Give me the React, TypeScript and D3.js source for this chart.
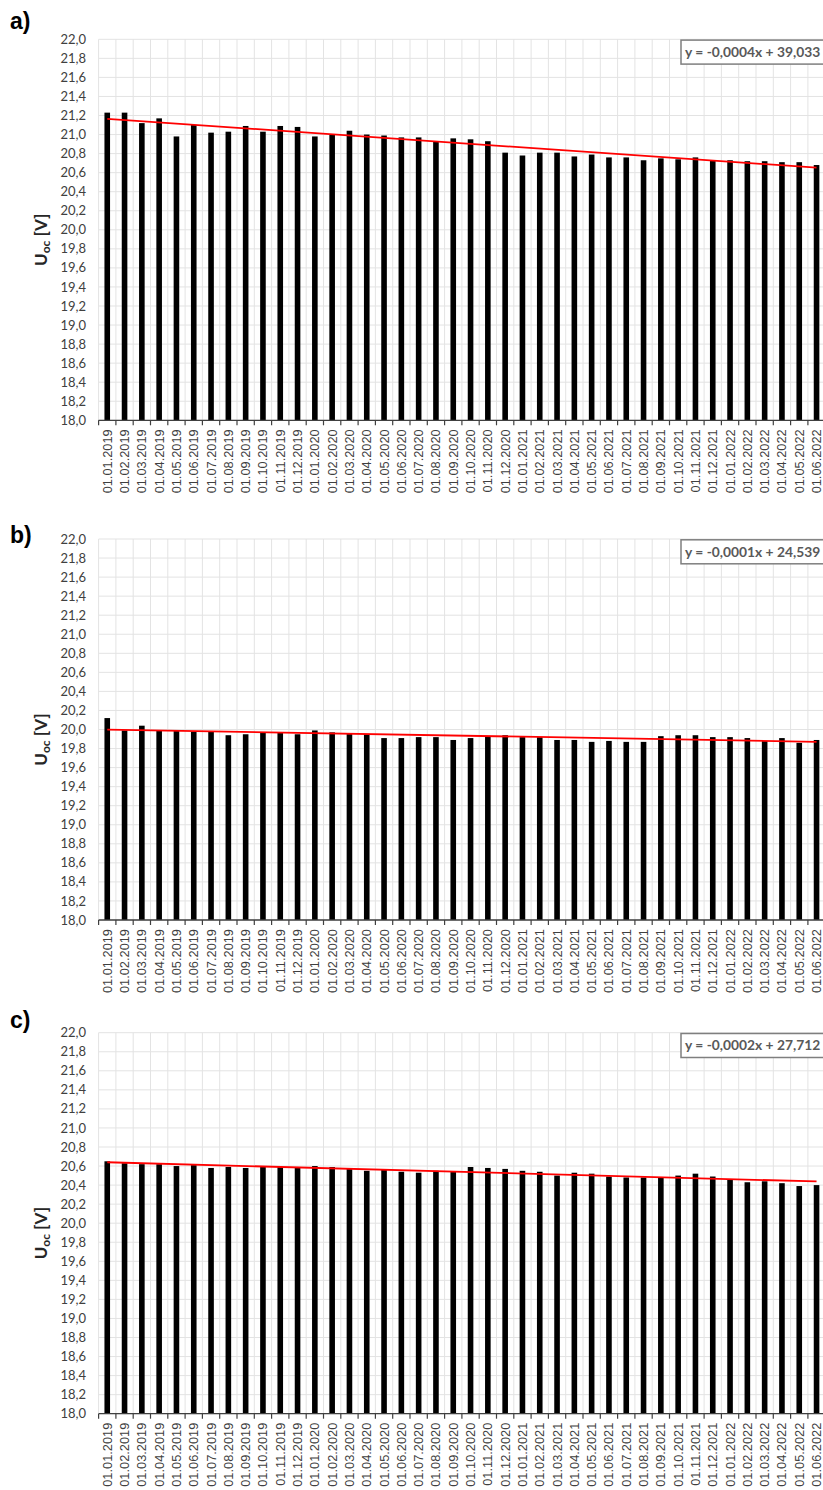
import React from "react";
import * as d3 from "d3";

const dateLabels = [
  "01.01.2019", "01.02.2019", "01.03.2019", "01.04.2019", "01.05.2019", "01.06.2019",
  "01.07.2019", "01.08.2019", "01.09.2019", "01.10.2019", "01.11.2019", "01.12.2019",
  "01.01.2020", "01.02.2020", "01.03.2020", "01.04.2020", "01.05.2020", "01.06.2020",
  "01.07.2020", "01.08.2020", "01.09.2020", "01.10.2020", "01.11.2020", "01.12.2020",
  "01.01.2021", "01.02.2021", "01.03.2021", "01.04.2021", "01.05.2021", "01.06.2021",
  "01.07.2021", "01.08.2021", "01.09.2021", "01.10.2021", "01.11.2021", "01.12.2021",
  "01.01.2022", "01.02.2022", "01.03.2022", "01.04.2022", "01.05.2022", "01.06.2022",
];

const seriesA = [
  21.23, 21.23, 21.12, 21.17, 20.98, 21.10, 21.02, 21.03, 21.09, 21.03, 21.09, 21.08,
  20.98, 21.00, 21.04, 21.00, 20.99, 20.97, 20.97, 20.93, 20.96, 20.95, 20.93, 20.81,
  20.78, 20.81, 20.81, 20.77, 20.79, 20.76, 20.76, 20.73, 20.75, 20.74, 20.76, 20.73,
  20.73, 20.72, 20.72, 20.71, 20.71, 20.68,
];
const seriesB = [
  20.12, 19.99, 20.04, 19.99, 19.99, 19.98, 19.98, 19.94, 19.95, 19.97, 19.97, 19.95,
  19.99, 19.97, 19.96, 19.95, 19.91, 19.91, 19.92, 19.92, 19.89, 19.91, 19.93, 19.94,
  19.92, 19.92, 19.89, 19.89, 19.87, 19.88, 19.87, 19.87, 19.93, 19.94, 19.94, 19.92,
  19.92, 19.91, 19.88, 19.91, 19.86, 19.89,
];
const seriesC = [
  20.65, 20.63, 20.62, 20.62, 20.60, 20.61, 20.58, 20.59, 20.58, 20.59, 20.59, 20.59,
  20.60, 20.59, 20.57, 20.55, 20.56, 20.54, 20.53, 20.55, 20.54, 20.59, 20.58, 20.57,
  20.55, 20.54, 20.50, 20.53, 20.52, 20.49, 20.48, 20.48, 20.48, 20.50, 20.52, 20.49,
  20.46, 20.43, 20.44, 20.42, 20.39, 20.40,
];

const panelLabels = ["a)", "b)", "c)"];
const equations = ["y = -0,0004x + 39,033", "y = -0,0001x + 24,539", "y = -0,0002x + 27,712"];
const yTicks = d3.range(18, 22.0001, 0.2).map((v) => +v.toFixed(1));

const W = 823;
const H = 1490;
const panelTops = [39.3, 539, 1032.7];
const labelBaselines = [28.5, 543, 1028];
const plotH = 381;
const plotLeft = 98.6;
const band = 17.3;

function toDayNumber(s: string) {
  const [dd, mm, yy] = s.split(".").map(Number);
  return Date.UTC(yy, mm - 1, dd) / 86400000;
}

function regression(xs: number[], ys: number[]) {
  const mx = d3.mean(xs)!;
  const my = d3.mean(ys)!;
  let num = 0;
  let den = 0;
  xs.forEach((x, i) => {
    num += (x - mx) * (ys[i] - my);
    den += (x - mx) * (x - mx);
  });
  const b = num / den;
  return { slope: b, intercept: my - b * mx };
}

const Panel = ({ idx, data }: { idx: number; data: number[] }) => {
  const top = panelTops[idx];
  const bottom = top + plotH;
  const x = d3
    .scaleBand<string>()
    .domain(dateLabels)
    .range([plotLeft, plotLeft + band * dateLabels.length])
    .padding(0);
  const y = d3.scaleLinear().domain([18, 22]).range([bottom, top]);
  const barW = 5.6;
  const days = dateLabels.map(toDayNumber);
  const reg = regression(days, data);
  const x0 = x(dateLabels[0])! + x.bandwidth() / 2;
  const x1 = x(dateLabels[dateLabels.length - 1])! + x.bandwidth() / 2;
  const t0 = reg.intercept + reg.slope * days[0];
  const t1 = reg.intercept + reg.slope * days[days.length - 1];
  const boundaries = d3.range(dateLabels.length + 1).map((i) => plotLeft + i * x.step());
  const titleY = (top + bottom) / 2 + 10;

  return (
    <g>
      <text
        x={10}
        y={labelBaselines[idx]}
        fontFamily="Liberation Sans, Arial, sans-serif"
        fontWeight="bold"
        fontSize={23}
        fill="#000"
      >
        {panelLabels[idx]}
      </text>
      {yTicks.map((t) => (
        <line
          key={"h" + t}
          x1={plotLeft}
          x2={W + 5}
          y1={y(t)}
          y2={y(t)}
          stroke="#e3e3e3"
          strokeWidth={1}
        />
      ))}
      {boundaries.map((bx, i) => (
        <line key={"v" + i} x1={bx} x2={bx} y1={top} y2={bottom} stroke="#e3e3e3" strokeWidth={1} />
      ))}
      {data.map((v, i) => (
        <rect
          key={"b" + i}
          x={x(dateLabels[i])! + x.bandwidth() / 2 - barW / 2}
          y={y(v)}
          width={barW}
          height={y(18) - y(v)}
          fill="#000"
        />
      ))}
      <line x1={plotLeft} x2={W + 5} y1={bottom} y2={bottom} stroke="#404040" strokeWidth={1.3} />
      {boundaries.map((bx, i) => (
        <line key={"t" + i} x1={bx} x2={bx} y1={bottom} y2={bottom + 5} stroke="#404040" strokeWidth={1.2} />
      ))}
      {yTicks.map((t) => (
        <text
          key={"yl" + t}
          x={86}
          y={y(t)}
          dy="0.35em"
          textAnchor="end"
          fontFamily="Lato, Open Sans, sans-serif"
          fontSize={13}
          fill="#404040"
        >
          {t.toFixed(1).replace(".", ",")}
        </text>
      ))}
      {dateLabels.map((d) => {
        const cx = x(d)! + x.bandwidth() / 2;
        const ty = bottom + 9;
        return (
          <text
            key={"xl" + d}
            transform={`translate(${cx},${ty}) rotate(-90)`}
            dy="0.35em"
            textAnchor="end"
            fontFamily="Liberation Sans, Arial, sans-serif"
            fontSize={12.8}
            fill="#404040"
          >
            {d}
          </text>
        );
      })}
      <text
        transform={`translate(47,${titleY}) rotate(-90)`}
        textAnchor="middle"
        fontFamily="Lato, Open Sans, sans-serif"
        fontWeight="bold"
        fontSize={17}
        fill="#262626"
      >
        U
        <tspan fontSize={12} dy={3}>
          oc
        </tspan>
        <tspan dy={-3}> [V]</tspan>
      </text>
      <line x1={x0} y1={y(t0)} x2={x1} y2={y(t1)} stroke="#ff0000" strokeWidth={1.8} />
      <rect x={681} y={top + 0.8} width={160} height={24} fill="#fff" stroke="#7f7f7f" strokeWidth={1.5} />
      <text
        x={685}
        y={top + 17.5}
        fontFamily="Lato, Open Sans, sans-serif"
        fontWeight="bold"
        fontSize={13.8}
        fill="#595959"
      >
        {equations[idx]}
      </text>
    </g>
  );
};

export default function App() {
  return (
    <svg
      width={W}
      height={H}
      style={{ position: "absolute", left: 0, top: 0, background: "#fff" }}
      xmlns="http://www.w3.org/2000/svg"
    >
      <rect x={0} y={0} width={W} height={H} fill="#fff" />
      <Panel idx={0} data={seriesA} />
      <Panel idx={1} data={seriesB} />
      <Panel idx={2} data={seriesC} />
    </svg>
  );
}
